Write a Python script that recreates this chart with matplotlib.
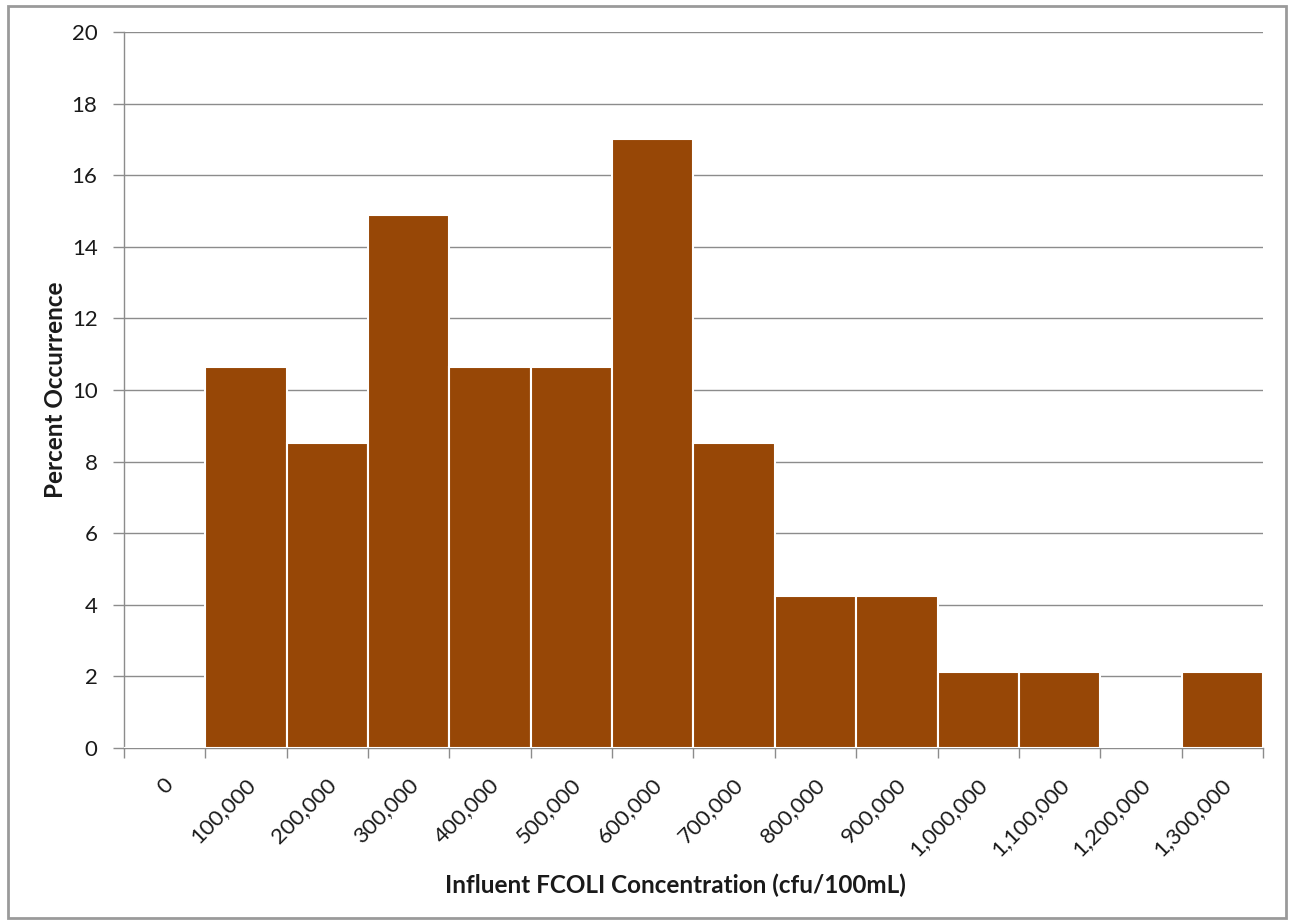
import matplotlib.pyplot as plt
import matplotlib.transforms as mtransforms
import numpy as np

plt.rcParams["font.family"] = ["Lato", "DejaVu Sans"]

# Influent fecal coliform histogram, percent of samples per 100,000 cfu bin
bin_labels = ["0", "100,000", "200,000", "300,000", "400,000", "500,000",
              "600,000", "700,000", "800,000", "900,000", "1,000,000",
              "1,100,000", "1,200,000", "1,300,000"]
percent = [0, 10.64, 8.51, 14.89, 10.64, 10.64, 17.02, 8.51,
           4.26, 4.26, 2.13, 2.13, 0, 2.13]

bar_color = "#974706"
grid_color = "#8c8c8c"
text_color = "#1a1a1a"

fig = plt.figure(figsize=(12.91, 9.22), dpi=100)
ax = fig.add_axes([0.0960, 0.1887, 0.8823, 0.7766])

x = np.arange(len(bin_labels))
ax.bar(x, percent, width=1.0, color=bar_color, edgecolor="white",
       linewidth=1.5, zorder=3)

ax.set_xlim(-0.5, len(bin_labels) - 0.5)
ax.set_ylim(0, 20)
ax.set_yticks(np.arange(0, 21, 2))
ax.yaxis.grid(True, color=grid_color, linewidth=1.0, zorder=0)
ax.set_axisbelow(True)

# tick marks sit on bin edges, labels at bin centres
ax.set_xticks(x)
ax.set_xticklabels(bin_labels, rotation=45, ha="right", va="center",
                   rotation_mode="anchor", fontsize=16, color=text_color)
ax.tick_params(axis="x", which="major", length=0, pad=24)
shift = mtransforms.ScaledTranslation(6 / 100, 0, fig.dpi_scale_trans)
for lbl in ax.get_xticklabels():
    lbl.set_transform(lbl.get_transform() + shift)
ax.set_xticks(np.arange(-0.5, len(bin_labels)), minor=True)
ax.tick_params(axis="x", which="minor", length=7, color=grid_color, width=1.0)
ax.tick_params(axis="y", length=8, color=grid_color, width=1.0,
               labelsize=16, labelcolor=text_color, pad=11)

for side in ["top", "right"]:
    ax.spines[side].set_visible(False)
for side in ["left", "bottom"]:
    ax.spines[side].set_color(grid_color)
    ax.spines[side].set_linewidth(1.0)

ax.set_ylabel("Percent Occurrence", fontsize=17.5, fontweight="bold",
              color=text_color)
ax.yaxis.set_label_coords(-0.0500, 0.5)
ax.set_xlabel("Influent FCOLI Concentration (cfu/100mL)", fontsize=17.5,
              fontweight="bold", color=text_color)
ax.xaxis.set_label_coords(0.4838, -0.1746)

# chart border
border = plt.Rectangle((0.006, 0.004), 0.990, 0.990, transform=fig.transFigure,
                       fill=False, edgecolor="#9a9a9a", linewidth=2.0)
fig.patches.append(border)

fig.savefig("out.png", dpi=100)
